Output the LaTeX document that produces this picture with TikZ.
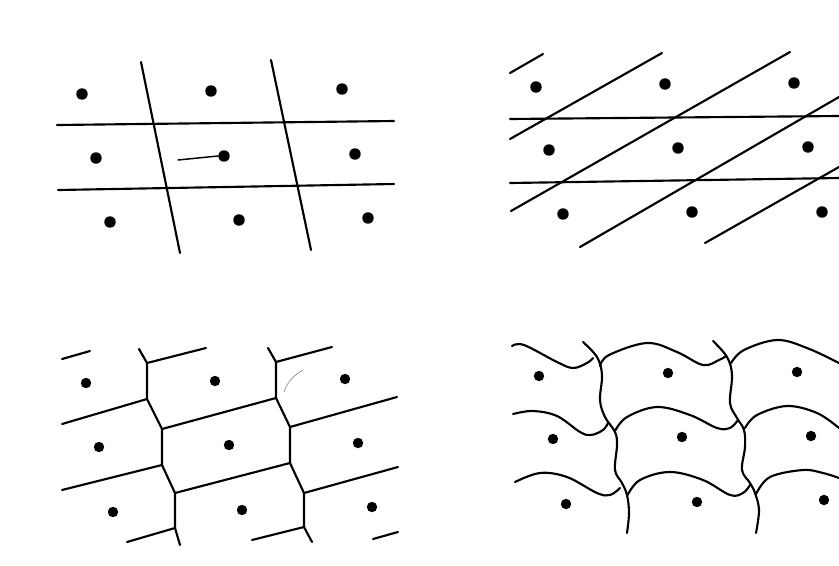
\documentclass[tikz,border=0pt]{standalone}
\begin{document}
\begin{tikzpicture}[x=0.75pt,y=-0.75pt,
  edge/.style={line width=1.6pt,line cap=round,line join=round,black},
  atom/.style={circle,fill=black,inner sep=0pt,minimum size=8.6pt},
  small/.style={circle,fill=black,inner sep=0pt,minimum size=7.8pt}]
\useasboundingbox[fill=white] (0,0) rectangle (839,565);

% ---------- panel 1 (top left) ----------
\foreach \n/\x/\y in {a1/82/94,a2/211/91,a3/342/89,a4/96/158,a5/224/156,a6/355/154,a7/110/222,a8/239/220,a9/368/218}
  \node[atom] (p1\n) at (\x,\y) {};
\coordinate (h1a) at (57,125); \coordinate (h1b) at (394,121);
\coordinate (h2a) at (58,190); \coordinate (h2b) at (394,184);
\coordinate (s1a) at (141,62); \coordinate (s1b) at (180,253);
\coordinate (s2a) at (271,60); \coordinate (s2b) at (311,250);
\draw[edge] (h1a) -- (h1b);
\draw[edge] (h2a) -- (h2b);
\draw[edge] (s1a) -- (s1b);
\draw[edge] (s2a) -- (s2b);
\coordinate (st) at (178,160);
\draw[line width=1.1pt,line cap=round] (st) -- (p1a5.west);

% ---------- panel 2 (top right) ----------
\foreach \n/\x/\y in {b1/536/87,b2/665/84,b3/794/83,b4/549/150,b5/678/148,b6/808/147,b7/563/214,b8/692/212,b9/822/212}
  \node[atom] (p2\n) at (\x,\y) {};
\coordinate (k1a) at (510,119); \coordinate (k1b) at (839,116);
\coordinate (k2a) at (510,183); \coordinate (k2b) at (839,178);
\draw[edge] (k1a) -- (k1b);
\draw[edge] (k2a) -- (k2b);
\coordinate (d0a) at (510,73);  \coordinate (d0b) at (543,54);
\coordinate (d1a) at (510,139); \coordinate (d1b) at (662,53);
\coordinate (d2a) at (511,211); \coordinate (d2b) at (790,52);
\coordinate (d3a) at (580,247); \coordinate (d3b) at (839,97);
\coordinate (d4a) at (705,243); \coordinate (d4b) at (839,167);
\draw[edge] (d0a) -- (d0b);
\draw[edge] (d1a) -- (d1b);
\draw[edge] (d2a) -- (d2b);
\draw[edge] (d3a) -- (d3b);
\draw[edge] (d4a) -- (d4b);

% ---------- panel 3 (bottom left) ----------
\foreach \n/\x/\y in {c1/86/383,c2/215/381,c3/345/379,c4/99/447,c5/229/445,c6/358/443,c7/113/512,c8/242/510,c9/372/507}
  \node[small] (p3\n) at (\x,\y) {};
% wall 1 vertices
\coordinate (w1t) at (139,349); \coordinate (w1a) at (147,363); \coordinate (w1b) at (147,399);
\coordinate (w1c) at (162,429); \coordinate (w1d) at (162,465); \coordinate (w1e) at (175,493);
\coordinate (w1f) at (175,528); \coordinate (w1g) at (180,545);
% wall 2 vertices
\coordinate (w2t) at (268,348); \coordinate (w2a) at (276,362); \coordinate (w2b) at (276,398);
\coordinate (w2c) at (290,427); \coordinate (w2d) at (290,463); \coordinate (w2e) at (304,493);
\coordinate (w2f) at (304,527); \coordinate (w2g) at (312,542);
\draw[edge] (w1t) -- (w1a) -- (w1b) -- (w1c) -- (w1d) -- (w1e) -- (w1f) -- (w1g);
\draw[edge] (w2t) -- (w2a) -- (w2b) -- (w2c) -- (w2d) -- (w2e) -- (w2f) -- (w2g);
\coordinate (e0a) at (62,359); \coordinate (e0b) at (90,351);
\coordinate (e1b) at (206,348); \coordinate (e2b) at (332,347);
\coordinate (e3a) at (62,424); \coordinate (e4b) at (397,397);
\coordinate (e5a) at (62,490); \coordinate (e6b) at (398,467);
\coordinate (e7a) at (127,542); \coordinate (e8a) at (252,540);
\coordinate (e9a) at (373,539); \coordinate (e9b) at (398,532);
\draw[edge] (e0a) -- (e0b);
\draw[edge] (w1a) -- (e1b);
\draw[edge] (w2a) -- (e2b);
\draw[edge] (e3a) -- (w1b);
\draw[edge] (w1c) -- (w2b);
\draw[edge] (w2c) -- (e4b);
\draw[edge] (e5a) -- (w1d);
\draw[edge] (w1e) -- (w2d);
\draw[edge] (w2e) -- (e6b);
\draw[edge] (e7a) -- (w1f);
\draw[edge] (e8a) -- (w2f);
\draw[edge] (e9a) -- (e9b);
\coordinate (sq1) at (284,392); \coordinate (sq2) at (303,370);
\draw[black!45,line width=0.5pt] (sq1) .. controls (288,380) and (296,374) .. (sq2);

% ---------- panel 4 (bottom right) ----------
\foreach \n/\x/\y in {f1/539/376,f2/668/373,f3/797/372,f4/553/439,f5/682/437,f6/811/436,f7/566/504,f8/697/502,f9/824/500}
  \node[small] (p4\n) at (\x,\y) {};
% walls
\draw[edge] plot[smooth,tension=0.6] coordinates {(583,342) (597,357) (602,375) (600,400) (605,417) (615,432) (617,445) (615,470) (622,483) (627,495) (629,513) (627,533)};
\draw[edge] plot[smooth,tension=0.6] coordinates {(713,341) (727,357) (732,375) (730,403) (737,418) (744,430) (745,447) (742,470) (750,483) (755,493) (759,510) (756,533)};
% row 1
\draw[edge] plot[smooth,tension=0.6] coordinates {(512,346) (524,345) (557,362) (573,368) (587,363) (593,358)};
\draw[edge] plot[smooth,tension=0.6] coordinates {(600,366) (609,355) (647,343) (677,352) (703,365) (719,360) (726,356)};
\draw[edge] plot[smooth,tension=0.6] coordinates {(731,363) (744,350) (777,340) (807,348) (839,363)};
% row 2
\draw[edge] plot[smooth,tension=0.6] coordinates {(513,414) (533,411) (557,416) (580,432) (591,435) (603,430) (608,423)};
\draw[edge] plot[smooth,tension=0.6] coordinates {(615,431) (627,417) (657,407) (690,415) (717,428) (730,428) (738,420)};
\draw[edge] plot[smooth,tension=0.6] coordinates {(745,428) (757,415) (787,406) (817,413) (839,428)};
% row 3
\draw[edge] plot[smooth,tension=0.6] coordinates {(515,482) (540,473) (567,477) (597,493) (610,495) (620,488)};
\draw[edge] plot[smooth,tension=0.6] coordinates {(627,496) (640,480) (670,472) (703,480) (730,495) (743,493) (750,485)};
\draw[edge] plot[smooth,tension=0.6] coordinates {(756,494) (770,477) (803,470) (823,473) (839,478)};
\end{tikzpicture}
\end{document}
